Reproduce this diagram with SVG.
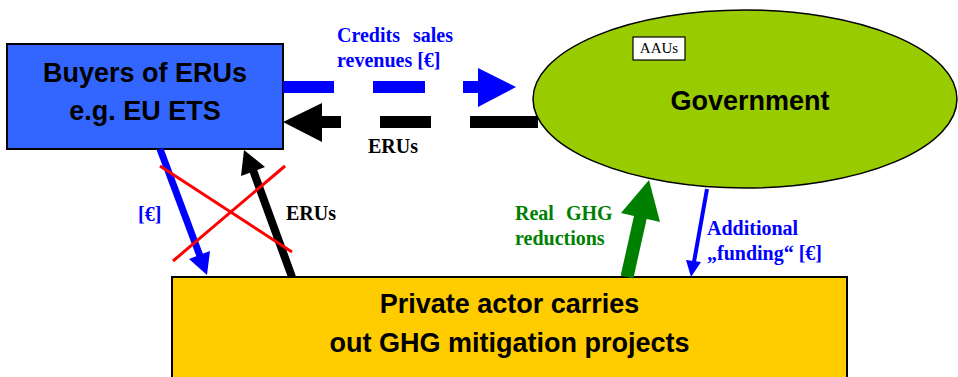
<svg xmlns="http://www.w3.org/2000/svg" width="958" height="377" viewBox="0 0 958 377">
<style>
.node{stroke:#000;stroke-width:2}
.lbl{font-family:"Liberation Sans",Arial,sans-serif;font-weight:bold;font-size:27px;fill:#000;text-anchor:middle}
.el{font-family:"Liberation Serif","Times New Roman",serif;font-weight:bold;font-size:20px}
.blue{fill:#0000FF}
.blk{fill:#000}
.grn{fill:#008000}
.dash{fill:none;stroke-width:12}
</style>
<rect width="958" height="377" fill="#fff"/>
<g id="buyers">
<rect class="node" x="7" y="44" width="276" height="105" fill="#3366FF"/>
<text class="lbl" x="145" y="82" font-size="26.5">Buyers of ERUs</text>
<text class="lbl" x="145" y="120" font-size="26.5">e.g. EU ETS</text>
</g>
<g id="government">
<ellipse cx="745" cy="99" rx="212" ry="89" fill="#99CC00" stroke="#000" stroke-width="1.5"/>
<text class="lbl" x="750" y="110">Government</text>
<rect x="633" y="37" width="52" height="23" fill="#fff" stroke="#000" stroke-width="1.2"/>
<text x="659" y="53" font-family="'Liberation Serif','Times New Roman',serif" font-size="15" text-anchor="middle">AAUs</text>
</g>
<g id="private">
<rect class="node" x="172" y="277" width="675" height="110" fill="#FFCC00"/>
<text class="lbl" x="509.5" y="313">Private actor carries</text>
<text class="lbl" x="509.5" y="352">out GHG mitigation projects</text>
</g>
<g id="connectors">
<path class="dash" stroke="#0000FF" d="M283 87H334M373 87H425M463 87H480"/>
<polygon class="blue" points="478,68 516,87 478,107"/>
<path class="dash" stroke="#000" d="M320 122H341M380 122H431M470 122H538"/>
<polygon class="blk" points="322,103 283,122 322,142"/>
<line x1="160" y1="149" x2="200" y2="256" stroke="#0000FF" stroke-width="7"/>
<polygon class="blue" points="189,259 210,251 207,275"/>
<line x1="292" y1="277" x2="253" y2="170" stroke="#000" stroke-width="8"/>
<polygon class="blk" points="241,176 265,167 244,150"/>
<line x1="160" y1="166" x2="292" y2="252" stroke="#FF0000" stroke-width="3"/>
<line x1="285" y1="166" x2="173" y2="261" stroke="#FF0000" stroke-width="3"/>
<line x1="627" y1="277" x2="642" y2="210" stroke="#008000" stroke-width="13"/>
<polygon class="grn" points="621,213 660,222 649,180"/>
<line x1="707" y1="189" x2="694" y2="262" stroke="#0000FF" stroke-width="4"/>
<polygon class="blue" points="686,260 701,262 691,277"/>
<text class="el blue"><tspan x="337" y="42">Credits</tspan><tspan x="413" y="42">sales</tspan><tspan x="337" y="67">revenues [€]</tspan></text>
<text class="el blk" x="368" y="153">ERUs</text>
<text class="el blue" x="138" y="221">[€]</text>
<text class="el blk" x="286" y="220">ERUs</text>
<text class="el grn"><tspan x="515" y="220">Real</tspan><tspan x="566" y="220">GHG</tspan><tspan x="515" y="245">reductions</tspan></text>
<text class="el blue"><tspan x="707" y="235">Additional</tspan><tspan x="707" y="260">„funding“ [€]</tspan></text>
</g>
</svg>
